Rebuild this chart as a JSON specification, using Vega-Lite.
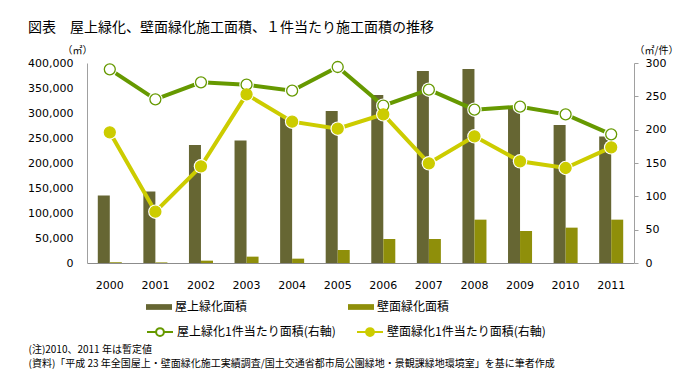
{
  "$schema": "https://vega.github.io/schema/vega-lite/v6.json",
  "width": 547,
  "height": 200,
  "autosize": {"type": "none"},
  "padding": {"left": 87, "top": 63, "right": 48, "bottom": 125},
  "background": "white",
  "config": {"view": {"stroke": null}, "font": "Noto Sans CJK JP"},
  "title": {
    "text": "図表　屋上緑化、壁面緑化施工面積、１件当たり施工面積の推移",
    "anchor": "start",
    "frame": "group",
    "dx": -59,
    "offset": 10,
    "fontSize": 14,
    "fontWeight": "normal",
    "font": "Noto Sans CJK JP",
    "color": "#000"
  },
  "datasets": {
    "area": [
      {"year": "2000", "series": "屋上緑化面積", "value": 135000},
      {"year": "2001", "series": "屋上緑化面積", "value": 143000},
      {"year": "2002", "series": "屋上緑化面積", "value": 236000},
      {"year": "2003", "series": "屋上緑化面積", "value": 245000},
      {"year": "2004", "series": "屋上緑化面積", "value": 293000},
      {"year": "2005", "series": "屋上緑化面積", "value": 304000},
      {"year": "2006", "series": "屋上緑化面積", "value": 336000},
      {"year": "2007", "series": "屋上緑化面積", "value": 384000},
      {"year": "2008", "series": "屋上緑化面積", "value": 388000},
      {"year": "2009", "series": "屋上緑化面積", "value": 310000},
      {"year": "2010", "series": "屋上緑化面積", "value": 276000},
      {"year": "2011", "series": "屋上緑化面積", "value": 253000},
      {"year": "2000", "series": "壁面緑化面積", "value": 1500},
      {"year": "2001", "series": "壁面緑化面積", "value": 1200},
      {"year": "2002", "series": "壁面緑化面積", "value": 4700},
      {"year": "2003", "series": "壁面緑化面積", "value": 12700},
      {"year": "2004", "series": "壁面緑化面積", "value": 8700},
      {"year": "2005", "series": "壁面緑化面積", "value": 26000},
      {"year": "2006", "series": "壁面緑化面積", "value": 48000},
      {"year": "2007", "series": "壁面緑化面積", "value": 48000},
      {"year": "2008", "series": "壁面緑化面積", "value": 86700},
      {"year": "2009", "series": "壁面緑化面積", "value": 64000},
      {"year": "2010", "series": "壁面緑化面積", "value": 70700},
      {"year": "2011", "series": "壁面緑化面積", "value": 86700}
    ],
    "perCase": [
      {"year": "2000", "series": "屋上緑化1件当たり面積(右軸)", "value": 290.5},
      {"year": "2001", "series": "屋上緑化1件当たり面積(右軸)", "value": 245.5},
      {"year": "2002", "series": "屋上緑化1件当たり面積(右軸)", "value": 271},
      {"year": "2003", "series": "屋上緑化1件当たり面積(右軸)", "value": 267.5},
      {"year": "2004", "series": "屋上緑化1件当たり面積(右軸)", "value": 258.5},
      {"year": "2005", "series": "屋上緑化1件当たり面積(右軸)", "value": 294},
      {"year": "2006", "series": "屋上緑化1件当たり面積(右軸)", "value": 236},
      {"year": "2007", "series": "屋上緑化1件当たり面積(右軸)", "value": 260},
      {"year": "2008", "series": "屋上緑化1件当たり面積(右軸)", "value": 230},
      {"year": "2009", "series": "屋上緑化1件当たり面積(右軸)", "value": 234.5},
      {"year": "2010", "series": "屋上緑化1件当たり面積(右軸)", "value": 223},
      {"year": "2011", "series": "屋上緑化1件当たり面積(右軸)", "value": 193},
      {"year": "2000", "series": "壁面緑化1件当たり面積(右軸)", "value": 196},
      {"year": "2001", "series": "壁面緑化1件当たり面積(右軸)", "value": 77},
      {"year": "2002", "series": "壁面緑化1件当たり面積(右軸)", "value": 145},
      {"year": "2003", "series": "壁面緑化1件当たり面積(右軸)", "value": 253},
      {"year": "2004", "series": "壁面緑化1件当たり面積(右軸)", "value": 212},
      {"year": "2005", "series": "壁面緑化1件当たり面積(右軸)", "value": 201.5},
      {"year": "2006", "series": "壁面緑化1件当たり面積(右軸)", "value": 223},
      {"year": "2007", "series": "壁面緑化1件当たり面積(右軸)", "value": 149.5},
      {"year": "2008", "series": "壁面緑化1件当たり面積(右軸)", "value": 190},
      {"year": "2009", "series": "壁面緑化1件当たり面積(右軸)", "value": 152.5},
      {"year": "2010", "series": "壁面緑化1件当たり面積(右軸)", "value": 142.5},
      {"year": "2011", "series": "壁面緑化1件当たり面積(右軸)", "value": 173.5}
    ]
  },
  "layer": [
    {
      "data": {"name": "area"},
      "mark": {"type": "bar"},
      "encoding": {
        "x": {
          "field": "year",
          "type": "nominal",
          "scale": {"paddingInner": 0.473, "paddingOuter": 0.2367},
          "axis": {
            "title": [
              "(注)2010、2011 年は暫定値",
              "(資料)「平成 23 年全国屋上・壁面緑化施工実績調査/国土交通省都市局公園緑地・景観課緑地環境室」を基に筆者作成"
            ],
            "labelAngle": 0,
            "ticks": false,
            "domainColor": "#8c8c8c",
            "labelPadding": 16,
            "labelFont": "DejaVu Sans",
            "labelFontSize": 11,
            "labelColor": "#000",
            "titleFont": "Noto Sans CJK JP",
            "titleFontSize": 10,
            "titleFontWeight": "normal",
            "titleColor": "#000",
            "titleX": -59,
            "titleY": 81,
            "titleAlign": "left",
            "titleAnchor": "start",
            "titleBaseline": "top",
            "titleLineHeight": 14
          }
        },
        "xOffset": {
          "field": "series",
          "type": "nominal",
          "scale": {"domain": ["屋上緑化面積", "壁面緑化面積"], "paddingInner": 0, "paddingOuter": 0}
        },
        "y": {
          "field": "value",
          "type": "quantitative",
          "scale": {"domain": [0, 400000], "nice": false},
          "axis": {
            "title": "（㎡）",
            "titleAngle": 0,
            "titleX": -10,
            "titleY": -13,
            "titleAlign": "center",
            "titleBaseline": "middle",
            "titleFontSize": 10,
            "titleFontWeight": "normal",
            "titleColor": "#000",
            "ticks": false,
            "labelPadding": 14,
            "values": [0, 50000, 100000, 150000, 200000, 250000, 300000, 350000, 400000],
            "format": ",.0f",
            "labelFont": "DejaVu Sans",
            "labelFontSize": 11,
            "labelColor": "#000",
            "domainColor": "#a0a0a0",
            "grid": false
          }
        },
        "color": {
          "field": "series",
          "type": "nominal",
          "scale": {"domain": ["屋上緑化面積", "壁面緑化面積"], "range": ["#666633", "#8f8f0a"]},
          "legend": {
            "title": null,
            "orient": "none",
            "legendX": 59,
            "legendY": 231,
            "direction": "horizontal",
            "columns": 2,
            "columnPadding": 100,
            "symbolType": "M-1,-0.22L1,-0.22L1,0.22L-1,0.22Z",
            "symbolSize": 676,
            "symbolStrokeWidth": 0,
            "labelFont": "Noto Sans CJK JP",
            "labelFontSize": 12,
            "labelColor": "#000",
            "labelOffset": 3,
            "labelLimit": 400
          }
        }
      }
    },
    {
      "data": {"name": "perCase"},
      "encoding": {
        "x": {"field": "year", "type": "nominal"},
        "y": {
          "field": "value",
          "type": "quantitative",
          "scale": {"domain": [0, 300], "nice": false},
          "axis": {
            "orient": "right",
            "title": "（㎡/件）",
            "titleAngle": 0,
            "titleX": 22,
            "titleY": -13,
            "titleAlign": "center",
            "titleBaseline": "middle",
            "titleFontSize": 10,
            "titleFontWeight": "normal",
            "titleColor": "#000",
            "values": [0, 50, 100, 150, 200, 250, 300],
            "tickSize": 4,
            "tickColor": "#a0a0a0",
            "labelPadding": 7,
            "labelFont": "DejaVu Sans",
            "labelFontSize": 11,
            "labelColor": "#000",
            "domainColor": "#a0a0a0",
            "grid": false
          }
        }
      },
      "layer": [
        {
          "mark": {"type": "line", "strokeWidth": 4},
          "encoding": {
            "stroke": {
              "field": "series",
              "type": "nominal",
              "scale": {"domain": ["屋上緑化1件当たり面積(右軸)", "壁面緑化1件当たり面積(右軸)"], "range": ["#669900", "#cccc00"]},
              "legend": {
                "title": null,
                "orient": "none",
                "legendX": 59,
                "legendY": 255,
                "direction": "horizontal",
                "columns": 2,
                "columnPadding": 17,
                "symbolType": "M-1,0L-0.3,0M0.3,0L1,0M0.3,0A0.3,0.3 0 1,1 -0.3,0A0.3,0.3 0 1,1 0.3,0Z",
                "symbolSize": 676,
                "symbolStrokeWidth": 2,
                "symbolOpacity": 1,
                "labelFont": "Noto Sans CJK JP",
                "labelFontSize": 12,
                "labelColor": "#000",
                "labelOffset": 3,
                "labelLimit": 400
              }
            }
          }
        },
        {
          "mark": {"type": "point", "filled": true, "size": 210, "color": "white", "opacity": 1}
        },
        {
          "mark": {"type": "point", "filled": true, "size": 120, "strokeWidth": 1.3, "opacity": 1},
          "encoding": {
            "stroke": {
              "field": "series",
              "type": "nominal",
              "legend": {
                "title": null,
                "orient": "none",
                "legendX": 59,
                "legendY": 255,
                "direction": "horizontal",
                "columns": 2,
                "columnPadding": 17,
                "symbolType": "M-1,0L-0.3,0M0.3,0L1,0M0.3,0A0.3,0.3 0 1,1 -0.3,0A0.3,0.3 0 1,1 0.3,0Z",
                "symbolSize": 676,
                "symbolStrokeWidth": 2,
                "symbolOpacity": 1,
                "labelFont": "Noto Sans CJK JP",
                "labelFontSize": 12,
                "labelColor": "#000",
                "labelOffset": 3,
                "labelLimit": 400
              }
            },
            "fill": {
              "field": "series",
              "type": "nominal",
              "scale": {"domain": ["屋上緑化1件当たり面積(右軸)", "壁面緑化1件当たり面積(右軸)"], "range": ["#ffffff", "#cccc00"]},
              "legend": {
                "title": null,
                "orient": "none",
                "legendX": 59,
                "legendY": 255,
                "direction": "horizontal",
                "columns": 2,
                "columnPadding": 17,
                "symbolType": "M-1,0L-0.3,0M0.3,0L1,0M0.3,0A0.3,0.3 0 1,1 -0.3,0A0.3,0.3 0 1,1 0.3,0Z",
                "symbolSize": 676,
                "symbolStrokeWidth": 2,
                "symbolOpacity": 1,
                "labelFont": "Noto Sans CJK JP",
                "labelFontSize": 12,
                "labelColor": "#000",
                "labelOffset": 3,
                "labelLimit": 400
              }
            }
          }
        }
      ]
    }
  ],
  "resolve": {"scale": {"y": "independent"}}
}
